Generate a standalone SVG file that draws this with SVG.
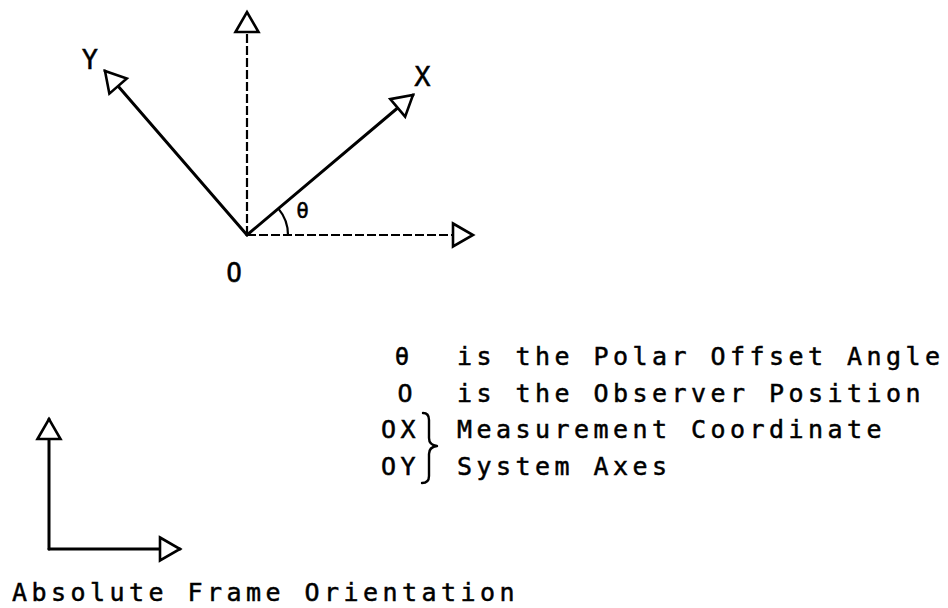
<svg xmlns="http://www.w3.org/2000/svg" width="948" height="608" viewBox="0 0 948 608">
<style>
  .solid { fill: none; stroke: #000; stroke-width: 3; stroke-linecap: round; }
  .dash { fill: none; stroke: #000; stroke-width: 2.2; stroke-dasharray: 9 3; }
  .arc { fill: none; stroke: #000; stroke-width: 2.2; }
  .brace { fill: none; stroke: #000; stroke-width: 2.4; stroke-linecap: round; stroke-linejoin: round; }
  .txt { font-family: "DejaVu Sans Mono", "Liberation Mono", monospace; fill: #000; stroke: #000; stroke-width: 0.5; }
  .leg { font-size: 25px; letter-spacing: 4.45px; }
  .lbl { font-size: 27px; }
</style>
<defs>
  <marker id="tri" markerUnits="userSpaceOnUse" markerWidth="26" markerHeight="30" refX="21" refY="14" orient="auto" overflow="visible">
    <path d="M1,2.5 L21,14 L1,25.5 Z" fill="#fff" stroke="#000" stroke-width="2.6" stroke-linejoin="miter" stroke-dasharray="none"/>
  </marker>
</defs>
<rect width="948" height="608" fill="#fff"/>
<g id="connectors">
  <line id="abs-up" class="dash" x1="247" y1="235" x2="247" y2="12" marker-end="url(#tri)"/>
  <line id="abs-right" class="dash" x1="247" y1="235" x2="473" y2="235" marker-end="url(#tri)"/>
  <line id="axis-x" class="solid" x1="247" y1="235" x2="413" y2="95" marker-end="url(#tri)"/>
  <line id="axis-y" class="solid" x1="247" y1="235" x2="105" y2="71" marker-end="url(#tri)"/>
  <path id="theta-arc" class="arc" d="M278.4,208.6 A41,41 0 0 1 288,235"/>
  <line id="frame-up" class="solid" x1="49" y1="549" x2="49" y2="419" marker-end="url(#tri)"/>
  <line id="frame-right" class="solid" x1="49" y1="549" x2="180" y2="549" marker-end="url(#tri)"/>
</g>
<g id="label-y"><text class="txt lbl" x="90" y="69" text-anchor="middle">Y</text></g>
<g id="label-x"><text class="txt lbl" x="422.5" y="86" text-anchor="middle">X</text></g>
<g id="label-theta"><text class="txt" font-size="21" x="302.5" y="218" text-anchor="middle">θ</text></g>
<g id="label-origin"><text class="txt" font-size="26" x="234" y="282" text-anchor="middle">O</text></g>
<g id="legend">
  <text class="txt" font-size="24" x="402" y="365" text-anchor="middle">θ</text>
  <text class="txt leg" x="457" y="365">is the Polar Offset Angle</text>
  <text class="txt" font-size="25" x="405" y="402" text-anchor="middle">O</text>
  <text class="txt leg" x="457" y="402">is the Observer Position</text>
  <text class="txt leg" x="381" y="438">OX</text>
  <text class="txt leg" x="457" y="438">Measurement Coordinate</text>
  <text class="txt leg" x="381" y="475">OY</text>
  <text class="txt leg" x="457" y="475">System Axes</text>
  <path class="brace" d="M423,413 Q429,413 429,420 L429,438 Q429,445 437,446 Q429,447 429,454 L429,476 Q429,483 422,483"/>
</g>
<g id="frame-caption"><text class="txt leg" x="12" y="601">Absolute Frame Orientation</text></g>
</svg>
